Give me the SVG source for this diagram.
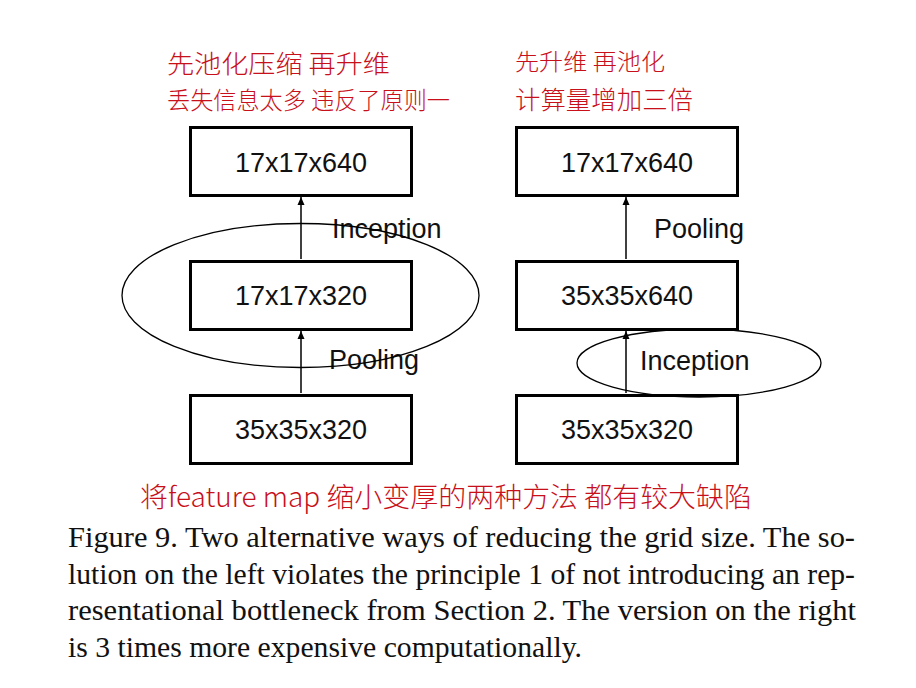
<svg xmlns="http://www.w3.org/2000/svg" width="916" height="688" viewBox="0 0 916 688">
<style>
.box{fill:#fff;stroke:#000;stroke-width:3}
.bt{font-family:"Liberation Sans",Arial,sans-serif;font-size:27px;fill:#111;text-anchor:middle}
.lb{font-family:"Liberation Sans",Arial,sans-serif;font-size:27px;fill:#111}
.ell{fill:none;stroke:#000;stroke-width:1.3}
.con{stroke:#000;stroke-width:1.5;fill:none;marker-end:url(#ah)}
.hw{font-family:"Noto Sans CJK SC","Noto Sans",sans-serif;fill:#c8101a;font-weight:300}
.cap{font-family:"Liberation Serif","Times New Roman",serif;font-size:30px;fill:#111}
</style>
<defs>
<marker id="ah" markerWidth="8" markerHeight="10" refX="8" refY="5" orient="auto" markerUnits="userSpaceOnUse">
<path d="M0,1.5 L8,5 L0,8.5 Z" fill="#000"/>
</marker>
</defs>
<rect width="916" height="688" fill="#fff"/>

<g id="notes">
<text class="hw" x="167" y="73" font-size="25" textLength="223" lengthAdjust="spacingAndGlyphs">先池化压缩 再升维</text>
<text class="hw" x="167" y="109" font-size="24" textLength="283" lengthAdjust="spacingAndGlyphs">丢失信息太多 违反了原则一</text>
<text class="hw" x="515" y="70" font-size="23" textLength="150" lengthAdjust="spacingAndGlyphs">先升维 再池化</text>
<text class="hw" x="515" y="109" font-size="25" textLength="178" lengthAdjust="spacingAndGlyphs">计算量增加三倍</text>
<text class="hw" x="140" y="507" font-size="27" textLength="612" lengthAdjust="spacingAndGlyphs">将feature map 缩小变厚的两种方法 都有较大缺陷</text>
</g>

<g id="connectors">
<line class="con" x1="301" y1="393" x2="301" y2="331"/>
<line class="con" x1="301" y1="259" x2="301" y2="197"/>
<line class="con" x1="626" y1="393" x2="626" y2="331"/>
<line class="con" x1="626" y1="259" x2="626" y2="197"/>
</g>

<g id="left-top"><rect class="box" x="190.5" y="127.5" width="221" height="68"/><text class="bt" x="301" y="172">17x17x640</text></g>
<g id="left-mid"><rect class="box" x="190.5" y="261.5" width="221" height="68"/><text class="bt" x="301" y="305">17x17x320</text></g>
<g id="left-bot"><rect class="box" x="190.5" y="395.5" width="221" height="68"/><text class="bt" x="301" y="439">35x35x320</text></g>

<g id="right-top"><rect class="box" x="516.5" y="127.5" width="221" height="68"/><text class="bt" x="627" y="172">17x17x640</text></g>
<g id="right-mid"><rect class="box" x="516.5" y="261.5" width="221" height="68"/><text class="bt" x="627" y="305">35x35x640</text></g>
<g id="right-bot"><rect class="box" x="516.5" y="395.5" width="221" height="68"/><text class="bt" x="627" y="439">35x35x320</text></g>

<g id="labels">
<text class="lb" x="332" y="238">Inception</text>
<text class="lb" x="329" y="369">Pooling</text>
<text class="lb" x="654" y="238">Pooling</text>
<text class="lb" x="640" y="370">Inception</text>
</g>

<g id="left-ellipse"><ellipse class="ell" cx="300.5" cy="295.5" rx="178.5" ry="72"/></g>
<g id="right-ellipse"><ellipse class="ell" cx="699" cy="363" rx="122" ry="34"/></g>

<g id="caption">
<text class="cap" x="68" y="547" textLength="787" lengthAdjust="spacingAndGlyphs">Figure 9. Two alternative ways of reducing the grid size.  The so-</text>
<text class="cap" x="68" y="584" textLength="787" lengthAdjust="spacingAndGlyphs">lution on the left violates the principle 1 of not introducing an rep-</text>
<text class="cap" x="68" y="620" textLength="788" lengthAdjust="spacingAndGlyphs">resentational bottleneck from Section 2.  The version on the right</text>
<text class="cap" x="68" y="657" textLength="514" lengthAdjust="spacingAndGlyphs">is 3 times more expensive computationally.</text>
</g>
</svg>
